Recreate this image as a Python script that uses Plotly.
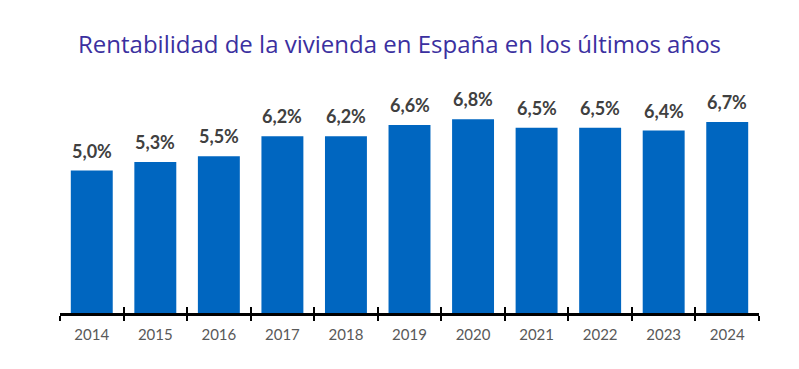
import plotly.graph_objects as go

years = ["2014", "2015", "2016", "2017", "2018", "2019", "2020", "2021", "2022", "2023", "2024"]
rentabilidad = [5.0, 5.3, 5.5, 6.2, 6.2, 6.6, 6.8, 6.5, 6.5, 6.4, 6.7]
labels = [f"{v:.1f}%".replace(".", ",") for v in rentabilidad]
title = "Rentabilidad de la vivienda en España en los últimos años"

fig = go.Figure()
fig.add_trace(go.Bar(
    x=years, y=rentabilidad,
    marker=dict(color="#0066c0", line=dict(width=0)),
    width=0.66,
    hoverinfo="skip",
))
fig.add_trace(go.Scatter(
    x=years, y=[0] * len(years), mode="markers", marker=dict(opacity=0),
    xaxis="x2", hoverinfo="skip", cliponaxis=False,
))
for i, (v, lab) in enumerate(zip(rentabilidad, labels)):
    fig.add_annotation(x=i, y=v, xref="x", yref="y", text=lab, showarrow=False,
                       yanchor="bottom", yshift=7,
                       font=dict(family="Lato", size=18, color="#404040", weight="bold"))

fig.update_layout(
    width=799, height=369,
    margin=dict(l=52, r=48, t=77, b=64),
    paper_bgcolor="white", plot_bgcolor="white",
    showlegend=False,
    title=dict(text=title, x=0.49, xanchor="center", y=0.9, yanchor="middle",
               font=dict(family="Open Sans", size=24, color="#3b30a0")),
    xaxis=dict(type="category", showgrid=False, showline=True, linecolor="black", linewidth=3,
               ticks="outside", tickson="boundaries", ticklen=5, tickwidth=2, tickcolor="black",
               tickfont=dict(family="Lato", size=15, color="#595959"), ticklabelstandoff=6,
               range=[-0.5, 10.5]),
    xaxis2=dict(type="category", overlaying="x", matches="x", showgrid=False, showline=False,
                ticks="inside", tickson="boundaries", ticklen=6, tickwidth=2, tickcolor="black",
                showticklabels=False, range=[-0.5, 10.5]),
    yaxis=dict(range=[0, 8], visible=False, showgrid=False, zeroline=False),
)
fig.write_html("out.html")
